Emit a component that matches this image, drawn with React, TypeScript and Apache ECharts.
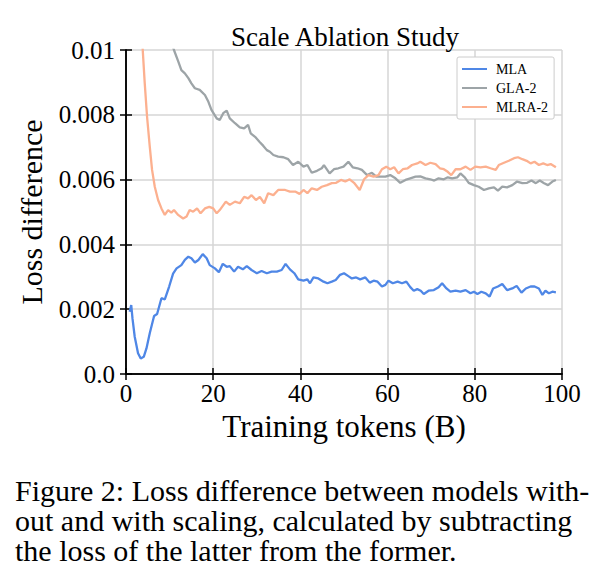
import React, { useEffect, useRef } from "react";
import * as echarts from "echarts";

const seriesNames = ["MLA", "GLA-2", "MLRA-2"];
const seriesColors = ["#4f87e6", "#9da4a7", "#fcb08f"];

const mla: number[][] = [
  [0.85,0.00192],[1.2,0.00213],[1.5,0.0017],[2.0,0.00115],[2.76,0.00064],[3.38,0.00048],[4.07,0.00053],[4.69,0.00079],[5.45,0.00126],[6.44,0.00179],[7.13,0.00185],[8.13,0.00234],[8.9,0.0023],[9.9,0.0027],[10.8,0.0031],[11.6,0.00326],[12.7,0.00336],[13.5,0.00352],[14.3,0.00362],[15.0,0.00357],[15.8,0.00344],[16.6,0.00352],[17.6,0.0037],[18.5,0.00357],[19.2,0.00336],[20.4,0.00326],[21.3,0.00314],[22.2,0.0034],[23.1,0.00331],[23.8,0.00333],[24.8,0.00316],[25.7,0.00331],[26.8,0.00323],[27.7,0.00333],[28.8,0.00321],[30.0,0.00311],[31.1,0.00318],[32.3,0.00311],[33.4,0.00316],[34.6,0.00316],[35.7,0.00321],[36.6,0.0034],[37.6,0.00323],[38.6,0.00311],[39.5,0.00292],[40.7,0.00288],[41.6,0.00292],[42.2,0.0028],[43.0,0.00298],[44.1,0.00295],[45.3,0.00285],[46.2,0.0028],[47.2,0.00285],[48.1,0.0029],[49.1,0.00306],[50.0,0.00311],[51.0,0.00302],[51.8,0.00295],[52.8,0.00298],[53.7,0.00292],[54.9,0.00298],[55.9,0.00282],[56.8,0.00288],[57.7,0.00285],[58.7,0.0027],[59.5,0.00275],[60.2,0.00288],[61.2,0.0028],[62.3,0.00285],[63.3,0.0028],[64.3,0.00285],[65.2,0.00268],[66.0,0.00257],[66.8,0.00262],[67.6,0.00257],[68.3,0.00247],[69.4,0.00257],[70.6,0.00259],[71.7,0.00268],[72.5,0.0028],[73.5,0.00264],[74.4,0.00254],[75.6,0.00257],[76.7,0.00254],[77.9,0.00259],[79.0,0.00249],[79.8,0.00254],[80.6,0.00247],[81.5,0.00254],[82.5,0.00249],[83.4,0.00239],[84.2,0.00264],[85.3,0.0027],[86.3,0.00278],[87.4,0.00259],[88.6,0.00264],[89.6,0.00272],[90.7,0.00251],[91.7,0.00264],[92.8,0.0027],[93.7,0.0027],[94.7,0.00264],[95.5,0.00244],[96.2,0.00257],[97.0,0.00249],[97.8,0.00254],[98.6,0.00252]
];

const gla2: number[][] = [
  [9.5,0.0106],[10.5,0.0102],[11.0,0.01],[12.0,0.00964],[12.7,0.00938],[13.5,0.00928],[14.3,0.00913],[15.0,0.00897],[15.8,0.00882],[16.9,0.00877],[18.1,0.00861],[18.9,0.0084],[19.6,0.00815],[20.8,0.00789],[21.5,0.00784],[22.3,0.00805],[23.1,0.00813],[23.8,0.00789],[25.0,0.00774],[26.1,0.00761],[27.1,0.00758],[28.0,0.00769],[28.6,0.00743],[29.6,0.00732],[30.6,0.00717],[31.5,0.00704],[32.3,0.00691],[33.0,0.00686],[33.8,0.00676],[34.9,0.00671],[36.1,0.00669],[37.2,0.00663],[38.3,0.00645],[39.5,0.00655],[40.7,0.0064],[41.6,0.00645],[42.6,0.00621],[43.8,0.00627],[44.9,0.00635],[45.4,0.00645],[46.7,0.00619],[47.7,0.00632],[48.7,0.00635],[49.9,0.0064],[51.0,0.00655],[52.0,0.00638],[53.1,0.00635],[54.1,0.0063],[55.3,0.00614],[56.4,0.00621],[57.4,0.00609],[58.5,0.00609],[59.5,0.00609],[60.6,0.00614],[61.8,0.00604],[62.9,0.0059],[64.1,0.00599],[65.2,0.00604],[66.4,0.00609],[67.5,0.0061],[68.7,0.00604],[69.8,0.00601],[70.7,0.00597],[71.7,0.00604],[72.9,0.00601],[73.8,0.00607],[74.8,0.00604],[76.0,0.00607],[76.7,0.00619],[77.7,0.00607],[78.6,0.0059],[79.8,0.00583],[80.9,0.00578],[82.1,0.00568],[83.2,0.00573],[84.4,0.00576],[85.3,0.00566],[86.3,0.00578],[87.4,0.00576],[88.6,0.00583],[89.7,0.00594],[90.9,0.00589],[92.0,0.0059],[93.0,0.00597],[94.0,0.00589],[94.9,0.00597],[95.9,0.00589],[96.8,0.00583],[97.8,0.00594],[98.6,0.00599]
];

const mlra2: number[][] = [
  [2.6,0.0135],[3.3,0.0112],[4.3,0.00897],[4.83,0.00794],[5.45,0.00702],[5.98,0.0063],[6.6,0.00578],[7.36,0.00537],[8.13,0.00511],[8.9,0.00491],[9.66,0.00506],[10.4,0.00498],[11.0,0.00506],[11.96,0.00491],[13.1,0.0048],[13.9,0.00486],[14.6,0.00506],[15.4,0.00501],[16.3,0.00511],[17.1,0.00496],[18.1,0.00511],[19.1,0.00516],[20.0,0.00511],[20.8,0.00496],[21.5,0.00506],[22.9,0.00532],[23.8,0.00522],[25.0,0.00532],[26.1,0.00527],[27.1,0.00547],[28.0,0.00542],[28.8,0.00552],[29.8,0.00537],[30.7,0.00547],[31.7,0.00527],[32.6,0.00558],[33.8,0.00552],[34.9,0.00568],[36.5,0.00568],[37.6,0.00563],[38.8,0.00563],[39.8,0.00556],[40.7,0.00568],[41.6,0.00558],[42.6,0.00573],[43.8,0.00568],[44.9,0.00578],[46.1,0.00583],[47.2,0.00589],[48.2,0.0059],[49.3,0.00599],[50.3,0.00594],[51.3,0.00601],[52.3,0.0059],[53.6,0.00568],[54.6,0.00601],[55.6,0.00614],[56.8,0.00609],[57.9,0.00614],[58.7,0.00632],[59.7,0.0064],[60.6,0.00632],[61.5,0.00638],[62.5,0.00619],[63.5,0.00632],[64.6,0.00635],[65.6,0.00645],[66.8,0.0065],[67.5,0.00655],[68.7,0.00645],[69.8,0.00652],[71.0,0.00648],[72.0,0.00635],[72.9,0.00632],[73.8,0.00624],[74.6,0.00614],[75.6,0.00632],[76.7,0.00632],[77.9,0.0064],[79.0,0.0063],[80.1,0.0064],[81.3,0.00638],[82.5,0.0064],[83.6,0.00635],[84.8,0.0063],[85.5,0.00645],[86.7,0.00652],[87.8,0.00658],[89.0,0.00666],[89.9,0.00669],[90.9,0.00663],[91.9,0.00658],[92.8,0.0065],[93.7,0.00655],[94.7,0.00645],[95.7,0.0065],[96.6,0.00645],[97.4,0.00648],[98.6,0.00638]
];

const captionLines = [
  "Figure 2: Loss difference between models with-",
  "out and with scaling, calculated by subtracting",
  "the loss of the latter from the former.",
];

const FONT = "'Liberation Serif', 'Times New Roman', serif";

export default function App() {
  const ref = useRef<HTMLDivElement>(null);
  useEffect(() => {
    if (!ref.current) return;
    const chart = echarts.init(ref.current, undefined, { renderer: "svg" });
    const axisLine = { show: true, lineStyle: { color: "#000", width: 1.5 } };
    const tick = { show: true, inside: true, length: 6, lineStyle: { color: "#000", width: 1.5 } };
    const yFmt = (v: number) => (v === 0 ? "0.0" : Math.abs(v - 0.01) < 1e-9 ? "0.01" : v.toFixed(3));
    const all = [mla, gla2, mlra2];
    chart.setOption({
      animation: false,
      backgroundColor: "#fff",
      title: {
        text: "Scale Ablation Study",
        left: 340,
        top: 18,
        textAlign: "center",
        textStyle: { fontFamily: FONT, fontSize: 27, fontWeight: "normal", color: "#000" },
      },
      grid: { left: 126, right: 40, top: 50, bottom: 213 },
      legend: {
        orient: "vertical",
        left: 457,
        top: 57,
        data: seriesNames,
        icon: "rect",
        itemWidth: 25,
        itemHeight: 2,
        itemGap: 5,
        padding: [5, 6, 5, 5],
        borderColor: "#cccccc",
        borderWidth: 1,
        borderRadius: 2,
        backgroundColor: "#fff",
        textStyle: { fontFamily: FONT, fontSize: 14, color: "#000", padding: [0, 0, 0, 4] },
      },
      xAxis: [
        {
          type: "value",
          min: 0,
          max: 100,
          interval: 20,
          name: "Training tokens (B)",
          nameLocation: "middle",
          nameGap: 35,
          nameTextStyle: { fontFamily: FONT, fontSize: 31, color: "#000" },
          axisLine,
          axisTick: tick,
          axisLabel: { fontFamily: FONT, fontSize: 25, color: "#000", margin: 7 },
          splitLine: { show: true, lineStyle: { color: "#d6d6d6", width: 1.5 } },
        },
        {
          type: "value",
          position: "top",
          min: 0,
          max: 100,
          interval: 20,
          axisLine,
          axisTick: tick,
          axisLabel: { show: false },
          splitLine: { show: false },
        },
      ],
      yAxis: [
        {
          type: "value",
          min: 0,
          max: 0.01,
          interval: 0.002,
          name: "Loss difference",
          nameLocation: "middle",
          nameGap: 80,
          nameTextStyle: { fontFamily: FONT, fontSize: 30, color: "#000" },
          axisLine,
          axisTick: tick,
          axisLabel: { fontFamily: FONT, fontSize: 25, color: "#000", margin: 11, formatter: yFmt },
          splitLine: { show: true, lineStyle: { color: "#d6d6d6", width: 1.5 } },
        },
        {
          type: "value",
          position: "right",
          min: 0,
          max: 0.01,
          interval: 0.002,
          axisLine,
          axisTick: tick,
          axisLabel: { show: false },
          splitLine: { show: false },
        },
      ],
      series: seriesNames.map((n, i) => ({
        name: n,
        type: "line",
        data: all[i],
        xAxisIndex: 0,
        yAxisIndex: 0,
        showSymbol: false,
        symbol: "none",
        clip: true,
        color: seriesColors[i],
        lineStyle: { color: seriesColors[i], width: 2.3 },
      })),
      graphic: captionLines.map((t, i) => ({
        type: "text",
        x: 15,
        y: 490 + i * 30,
        style: { text: t, fontFamily: FONT, fontSize: 30, fill: "#000", verticalAlign: "middle" },
      })),
    });
    return () => chart.dispose();
  }, []);
  return (
    <div
      ref={ref}
      style={{ position: "absolute", left: 0, top: 0, width: 602, height: 587, background: "#fff" }}
    />
  );
}
